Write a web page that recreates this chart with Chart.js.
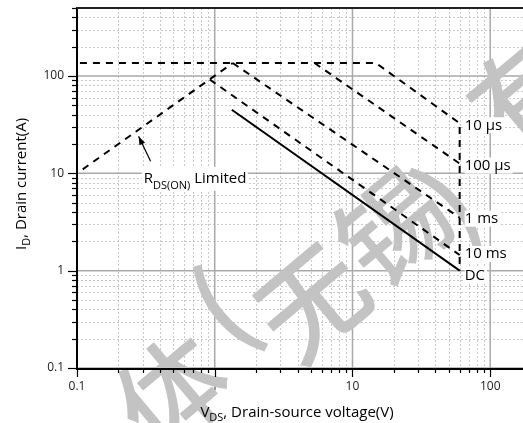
<!DOCTYPE html>
<html><head><meta charset="utf-8">
<script src="https://cdn.jsdelivr.net/npm/chart.js@4/dist/chart.umd.min.js"></script>
<style>html,body{margin:0;padding:0;background:#fff;overflow:hidden}</style>
</head><body>
<canvas id="c" width="523" height="423"></canvas>
<script>
// ---- data ----
const xDecades = [0.1, 1, 10, 100];
const yDecades = [0.1, 1, 10, 100];
const xTickLabels = ['0.1', '1', '10', '100'];
const yTickLabels = ['0.1', '1', '10', '100'];
const rdsV = [0.11, 1.35],            rdsI = [11, 136];
const us10V = [0.105, 14.8, 60, 60],  us10I = [136, 136, 32.7, 1.0];
const us100V = [5.3, 60],             us100I = [136, 12.6];
const ms1V = [1.35, 60],              ms1I = [136, 3.5];
const ms10V = [0.92, 60],             ms10I = [92, 1.45];
const dcV = [1.33, 60],               dcI = [45, 1.0];
const curveNames = ['10 µs', '100 µs', '1 ms', '10 ms', 'DC'];
const curveEndV = [60, 60, 60, 60, 60];
const curveEndI = [32.7, 12.6, 3.5, 1.45, 1.0];
const xTitle = ['V', 'DS', ', Drain-source voltage(V)'];
const yTitle = ['I', 'D', ', Drain current(A)'];
const rdsNote = ['R', 'DS(ON)', ' Limited'];
// watermark glyphs (background decoration) and where each one sits on the page
const wmChars = ['体', '(', '无', '锡', ')', '有'];
const wmSpots = [[172, 392], [226, 312], [314, 304], [392, 228], [450, 208], [524, 94]];

const FONT = '"Open Sans", "Noto Sans", sans-serif';
const pts = (vx, vy) => vx.map((v, i) => ({x: v, y: vy[i]}));
const dashed = (vx, vy) => ({data: pts(vx, vy), borderColor: '#000', borderWidth: 2, borderDash: [7, 6], pointRadius: 0, showLine: true, tension: 0, fill: false});

function drawSub(ctx, parts, x, y, size, subSize, subDrop, align) {
  ctx.font = size + 'px ' + FONT;
  const w0 = ctx.measureText(parts[0]).width;
  const w2 = ctx.measureText(parts[2]).width;
  ctx.font = subSize + 'px ' + FONT;
  const w1 = ctx.measureText(parts[1]).width;
  const total = w0 + w1 + w2;
  let sx = align === 'center' ? x - total / 2 : x;
  ctx.textAlign = 'left';
  ctx.textBaseline = 'alphabetic';
  ctx.font = size + 'px ' + FONT; ctx.fillText(parts[0], sx, y);
  ctx.font = subSize + 'px ' + FONT; ctx.fillText(parts[1], sx + w0, y + subDrop);
  ctx.font = size + 'px ' + FONT; ctx.fillText(parts[2], sx + w0 + w1, y);
  return {left: sx, width: total};
}

const decor = {
  id: 'decor',
  beforeDatasetsDraw(chart) {
    const {ctx, chartArea: a, scales: {x, y}} = chart;
    ctx.save();
    ctx.beginPath(); ctx.rect(a.left, a.top, a.right - a.left, a.bottom - a.top); ctx.clip();
    // minor grid
    ctx.strokeStyle = '#c9c9c9'; ctx.lineWidth = 1; ctx.setLineDash([2, 2]);
    xDecades.forEach(d => { for (let m = 2; m <= 9; m++) { const v = d * m; if (v > x.max) continue;
      const px = Math.round(x.getPixelForValue(v)) + 0.5; ctx.beginPath(); ctx.moveTo(px, a.top); ctx.lineTo(px, a.bottom); ctx.stroke(); } });
    yDecades.forEach(d => { for (let m = 2; m <= 9; m++) { const v = d * m; if (v > y.max) continue;
      const py = Math.round(y.getPixelForValue(v)) + 0.5; ctx.beginPath(); ctx.moveTo(a.left, py); ctx.lineTo(a.right, py); ctx.stroke(); } });
    // major grid
    ctx.setLineDash([]); ctx.strokeStyle = '#a9a9a9'; ctx.lineWidth = 1.5;
    xDecades.forEach(v => { const px = x.getPixelForValue(v); ctx.beginPath(); ctx.moveTo(px, a.top); ctx.lineTo(px, a.bottom); ctx.stroke(); });
    yDecades.forEach(v => { const py = y.getPixelForValue(v); ctx.beginPath(); ctx.moveTo(a.left, py); ctx.lineTo(a.right, py); ctx.stroke(); });
    ctx.restore();
    // watermark: each glyph rotated, ink centred on its spot
    ctx.save();
    ctx.fillStyle = '#c3c3c3'; ctx.font = '500 108px "Noto Sans CJK SC"';
    ctx.textAlign = 'left'; ctx.textBaseline = 'alphabetic';
    wmChars.forEach((ch, i) => {
      const m = ctx.measureText(ch);
      const cx = (m.actualBoundingBoxRight - m.actualBoundingBoxLeft) / 2;
      const cy = (m.actualBoundingBoxDescent - m.actualBoundingBoxAscent) / 2;
      ctx.save();
      ctx.translate(wmSpots[i][0], wmSpots[i][1]); ctx.rotate(-40 * Math.PI / 180);
      ctx.fillText(ch, -cx, -cy);
      ctx.restore();
    });
    ctx.restore();
  },
  afterDatasetsDraw(chart) {
    const {ctx, chartArea: a, scales: {x, y}} = chart;
    ctx.save();
    // axis lines
    ctx.strokeStyle = '#000'; ctx.lineWidth = 2;
    ctx.beginPath(); ctx.moveTo(a.left, a.top); ctx.lineTo(a.left, a.bottom + 1); ctx.lineTo(a.right, a.bottom + 1); ctx.stroke();
    ctx.strokeStyle = '#222';
    ctx.beginPath(); ctx.moveTo(a.left - 1, a.top); ctx.lineTo(a.right, a.top); ctx.stroke();
    // tick marks
    ctx.lineWidth = 1.2; ctx.strokeStyle = '#000';
    xDecades.forEach(d => { for (let m = 1; m <= 9; m++) { const v = d * m; if (v > x.max) continue;
      const px = Math.round(x.getPixelForValue(v)) + 0.5; const len = m === 1 ? 8 : 4;
      ctx.beginPath(); ctx.moveTo(px, a.bottom + 1); ctx.lineTo(px, a.bottom + 1 + len); ctx.stroke(); } });
    yDecades.forEach(d => { for (let m = 1; m <= 9; m++) { const v = d * m; if (v > y.max) continue;
      const py = Math.round(y.getPixelForValue(v)) + 0.5; const len = m === 1 ? 9 : 5;
      ctx.beginPath(); ctx.moveTo(a.left, py); ctx.lineTo(a.left - len, py); ctx.stroke(); } });
    // curve labels
    const offs = [2, 2, 1, -1, 5];
    curveNames.forEach((t, i) => {
      const px = x.getPixelForValue(curveEndV[i]) + 5, py = y.getPixelForValue(curveEndI[i]) + offs[i];
      ctx.font = '15px ' + FONT;
      const w = ctx.measureText(t).width;
      ctx.fillStyle = '#fff'; ctx.fillRect(px, py - 8, w + 2, 16);
      ctx.fillStyle = '#000'; ctx.textAlign = 'left'; ctx.textBaseline = 'middle';
      ctx.fillText(t, px, py);
    });
    // R_DS(ON) Limited note with arrow
    const nx = x.getPixelForValue(0.3), ny = y.getPixelForValue(9);
    ctx.fillStyle = '#fff'; ctx.fillRect(nx - 1, ny - 11, 106, 24);
    ctx.fillStyle = '#000';
    drawSub(ctx, rdsNote, nx + 1, ny + 5, 15, 11, 6, 'left');
    const tipX = x.getPixelForValue(0.28), tipY = y.getPixelForValue(24);
    const tailX = tipX + 12, tailY = tipY + 25;
    ctx.strokeStyle = '#000'; ctx.lineWidth = 1.2;
    ctx.beginPath(); ctx.moveTo(tailX, tailY); ctx.lineTo(tipX, tipY); ctx.stroke();
    const ang = Math.atan2(tipY - tailY, tipX - tailX);
    ctx.beginPath(); ctx.moveTo(tipX, tipY);
    ctx.lineTo(tipX - 9 * Math.cos(ang - 0.35), tipY - 9 * Math.sin(ang - 0.35));
    ctx.lineTo(tipX - 9 * Math.cos(ang + 0.35), tipY - 9 * Math.sin(ang + 0.35));
    ctx.closePath(); ctx.fill();
    // axis titles
    ctx.fillStyle = '#000';
    drawSub(ctx, xTitle, (a.left + a.right) / 2 - 3, 417, 15, 11, 4, 'center');
    ctx.save(); ctx.translate(26, (a.top + a.bottom) / 2 - 4); ctx.rotate(-Math.PI / 2);
    drawSub(ctx, yTitle, 0, 0, 15, 11, 4, 'center');
    ctx.restore();
    ctx.restore();
  }
};

const keepDecades = list => s => { s.ticks = s.ticks.filter(t => list.some(d => Math.abs(d - t.value) < d * 1e-6)); };

new Chart(document.getElementById('c'), {
  type: 'scatter',
  data: { datasets: [
    dashed(rdsV, rdsI), dashed(us10V, us10I), dashed(us100V, us100I),
    dashed(ms1V, ms1I), dashed(ms10V, ms10I),
    {data: pts(dcV, dcI), borderColor: '#000', borderWidth: 2, pointRadius: 0, showLine: true, tension: 0, fill: false}
  ]},
  options: {
    responsive: false, animation: false, devicePixelRatio: 1,
    layout: {padding: {top: 8, right: 0, left: 0, bottom: 0}},
    plugins: {legend: {display: false}, tooltip: {enabled: false}},
    scales: {
      x: { type: 'logarithmic', min: 0.1, max: 173,
        grid: {display: false, drawTicks: false}, border: {display: false},
        afterBuildTicks: keepDecades(xDecades),
        afterFit: s => { s.height = 55; s.paddingLeft = 0; s.paddingRight = 0; },
        ticks: { autoSkip: false, maxRotation: 0, padding: 11, color: '#222', font: {family: FONT, size: 12},
          callback: v => { const i = xDecades.findIndex(d => Math.abs(d - v) < d * 1e-6); return i >= 0 ? xTickLabels[i] : ''; } } },
      y: { type: 'logarithmic', min: 0.1, max: 500,
        grid: {display: false, drawTicks: false}, border: {display: false},
        afterBuildTicks: keepDecades(yDecades),
        afterFit: s => { s.width = 77; s.paddingTop = 0; s.paddingBottom = 0; },
        ticks: { autoSkip: false, padding: 13, color: '#222', font: {family: FONT, size: 12},
          callback: v => { const i = yDecades.findIndex(d => Math.abs(d - v) < d * 1e-6); return i >= 0 ? yTickLabels[i] : ''; } } }
    }
  },
  plugins: [decor]
});
</script>
</body></html>
